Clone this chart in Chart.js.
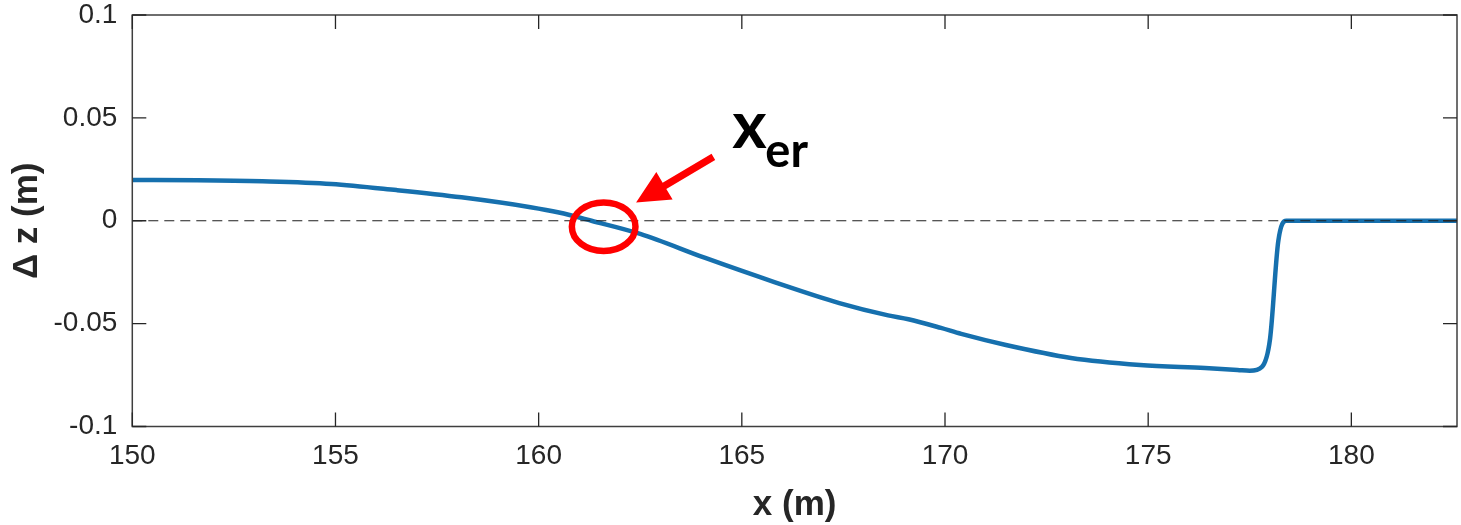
<!DOCTYPE html>
<html>
<head>
<meta charset="utf-8">
<script src="https://cdn.jsdelivr.net/npm/chart.js@4/dist/chart.umd.min.js"></script>
<style>
  html, body { margin: 0; padding: 0; background: #ffffff; }
  canvas { display: block; }
</style>
</head>
<body>
<canvas id="profile" width="1461" height="525"></canvas>
<script>
// Cross-shore positions (m) and bed-level change (m)
const xPositions = [150, 151.6, 153.2, 154.9, 156.5, 158.1, 159.8, 160.5, 161.3, 162.5,
                    164.1, 165.8, 167.4, 168.6, 169.1, 169.9, 170.4, 171.5, 173.1, 174.8,
                    176.4, 177.2, 177.5, 177.8, 178.0, 178.2, 178.4, 182.6];
const dzValues   = [0.0198, 0.0197, 0.0192, 0.0179, 0.0149, 0.0114, 0.0066, 0.0040, 0.0000, -0.0064,
                    -0.0181, -0.0298, -0.0400, -0.0460, -0.0479, -0.0521, -0.0550, -0.0604, -0.0667, -0.0701,
                    -0.0716, -0.0725, -0.0729, -0.0710, -0.0573, -0.0102, 0.0000, 0.0000];

// Zero reference line
const zeroLineX = [150, 182.6];
const zeroLineY = [0, 0];

// Axes
const xRange = [150, 182.6];
const yRange = [-0.1, 0.1];
const xTicks = [150, 155, 160, 165, 170, 175, 180];
const xTickLabels = ['150', '155', '160', '165', '170', '175', '180'];
const yTicks = [-0.1, -0.05, 0, 0.05, 0.1];
const yTickLabels = ['-0.1', '-0.05', '0', '0.05', '0.1'];

// Erosion-point marker (data coordinates) and its label
const markerPoint = { x: 161.6, y: -0.0029 };
const markerLabel = 'x';
const markerSub = 'er';

const axisFont = 'Liberation Sans, Arial, sans-serif';
const textColor = '#262626';

const frameAndMarker = {
  id: 'frameAndMarker',
  afterDraw(chart) {
    const { ctx, chartArea: a, scales: { x, y } } = chart;
    ctx.save();

    // axes box
    ctx.strokeStyle = '#3f3f3f';
    ctx.lineWidth = 1.5;
    ctx.strokeRect(a.left, a.top, a.right - a.left, a.bottom - a.top);

    // inward tick marks on all four sides
    const tl = 14;
    ctx.lineWidth = 1.3;
    ctx.strokeStyle = '#262626';
    ctx.beginPath();
    xTicks.forEach(v => {
      const p = x.getPixelForValue(v);
      ctx.moveTo(p, a.bottom); ctx.lineTo(p, a.bottom - tl);
      ctx.moveTo(p, a.top); ctx.lineTo(p, a.top + tl);
    });
    yTicks.forEach(v => {
      const p = y.getPixelForValue(v);
      ctx.moveTo(a.left, p); ctx.lineTo(a.left + tl, p);
      ctx.moveTo(a.right, p); ctx.lineTo(a.right - tl, p);
    });
    ctx.stroke();

    // red ellipse around the crossing point
    const cx = x.getPixelForValue(markerPoint.x);
    const cy = y.getPixelForValue(markerPoint.y);
    ctx.strokeStyle = '#ff0000';
    ctx.lineWidth = 6.5;
    ctx.beginPath();
    ctx.ellipse(cx, cy, 31.8, 24.3, 0, 0, Math.PI * 2);
    ctx.stroke();

    // arrow pointing at the ellipse
    const tx = cx + 109.7, ty = cy - 69.8;   // tail
    const px = cx + 32.4, py = cy - 24.1;    // tip
    const dx = px - tx, dy = py - ty;
    const len = Math.hypot(dx, dy);
    const ux = dx / len, uy = dy / len;
    const nx = -uy, ny = ux;
    const headLen = 33, headHalf = 16, shaftHalf = 3.6;
    const bx = px - ux * headLen, by = py - uy * headLen;
    ctx.fillStyle = '#ff0000';
    ctx.beginPath();
    ctx.moveTo(tx + nx * shaftHalf, ty + ny * shaftHalf);
    ctx.lineTo(bx + nx * shaftHalf, by + ny * shaftHalf);
    ctx.lineTo(bx + nx * headHalf, by + ny * headHalf);
    ctx.lineTo(px, py);
    ctx.lineTo(bx - nx * headHalf, by - ny * headHalf);
    ctx.lineTo(bx - nx * shaftHalf, by - ny * shaftHalf);
    ctx.lineTo(tx - nx * shaftHalf, ty - ny * shaftHalf);
    ctx.closePath();
    ctx.fill();

    // label x_er
    ctx.fillStyle = '#000000';
    ctx.textAlign = 'left';
    ctx.textBaseline = 'alphabetic';
    ctx.font = 'bold 66px Lato, "Open Sans", sans-serif';
    ctx.fillText(markerLabel, cx + 128.7, cy - 78.8);
    ctx.font = 'bold 47px Lato, "Open Sans", sans-serif';
    ctx.fillText(markerSub, cx + 161.7, cy - 59.8);

    ctx.restore();
  }
};

new Chart(document.getElementById('profile'), {
  type: 'line',
  data: {
    datasets: [
      {
        label: 'zero',
        data: zeroLineX.map((v, i) => ({ x: v, y: zeroLineY[i] })),
        borderColor: '#1e1e1e',
        borderWidth: 1.2,
        borderDash: [10, 6],
        pointRadius: 0,
        order: 0
      },
      {
        label: 'dz',
        data: xPositions.map((v, i) => ({ x: v, y: dzValues[i] })),
        borderColor: '#1670ae',
        borderWidth: 4.5,
        pointRadius: 0,
        cubicInterpolationMode: 'monotone',
        order: 1
      }
    ]
  },
  options: {
    responsive: false,
    animation: false,
    devicePixelRatio: 1,
    layout: { padding: { left: 0, top: 15, right: 4, bottom: 0 } },
    plugins: { legend: { display: false }, tooltip: { enabled: false } },
    scales: {
      x: {
        type: 'linear',
        min: xRange[0],
        max: xRange[1],
        grid: { display: false, drawTicks: false, tickLength: 0 },
        border: { display: false },
        afterBuildTicks: s => { s.ticks = xTicks.map(v => ({ value: v })); },
        ticks: {
          autoSkip: false,
          maxRotation: 0,
          padding: 16,
          color: textColor,
          font: { family: axisFont, size: 28, lineHeight: 1 },
          callback: (v) => { const i = xTicks.indexOf(v); return i >= 0 ? xTickLabels[i] : ''; }
        },
        title: {
          display: true,
          text: 'x (m)',
          color: textColor,
          font: { family: axisFont, size: 35, weight: 'bold', lineHeight: 1.14 },
          padding: { top: 0, bottom: 0 }
        },
        afterFit: s => { s.height = 98.5; s.paddingLeft = 0; s.paddingRight = 0; }
      },
      y: {
        type: 'linear',
        min: yRange[0],
        max: yRange[1],
        grid: { display: false, drawTicks: false, tickLength: 0 },
        border: { display: false },
        afterBuildTicks: s => { s.ticks = yTicks.map(v => ({ value: v })); },
        ticks: {
          autoSkip: false,
          padding: 15,
          color: textColor,
          font: { family: axisFont, size: 28, lineHeight: 1 },
          callback: (v, i) => yTickLabels[i]
        },
        title: {
          display: true,
          text: 'Δ z (m)',
          color: textColor,
          font: { family: axisFont, size: 35, weight: 'bold', lineHeight: 1.14 },
          padding: { top: 7, bottom: 0 }
        },
        afterFit: s => { s.width = 132.3; s.paddingTop = 0; s.paddingBottom = 0; }
      }
    }
  },
  plugins: [frameAndMarker]
});
</script>
</body>
</html>
